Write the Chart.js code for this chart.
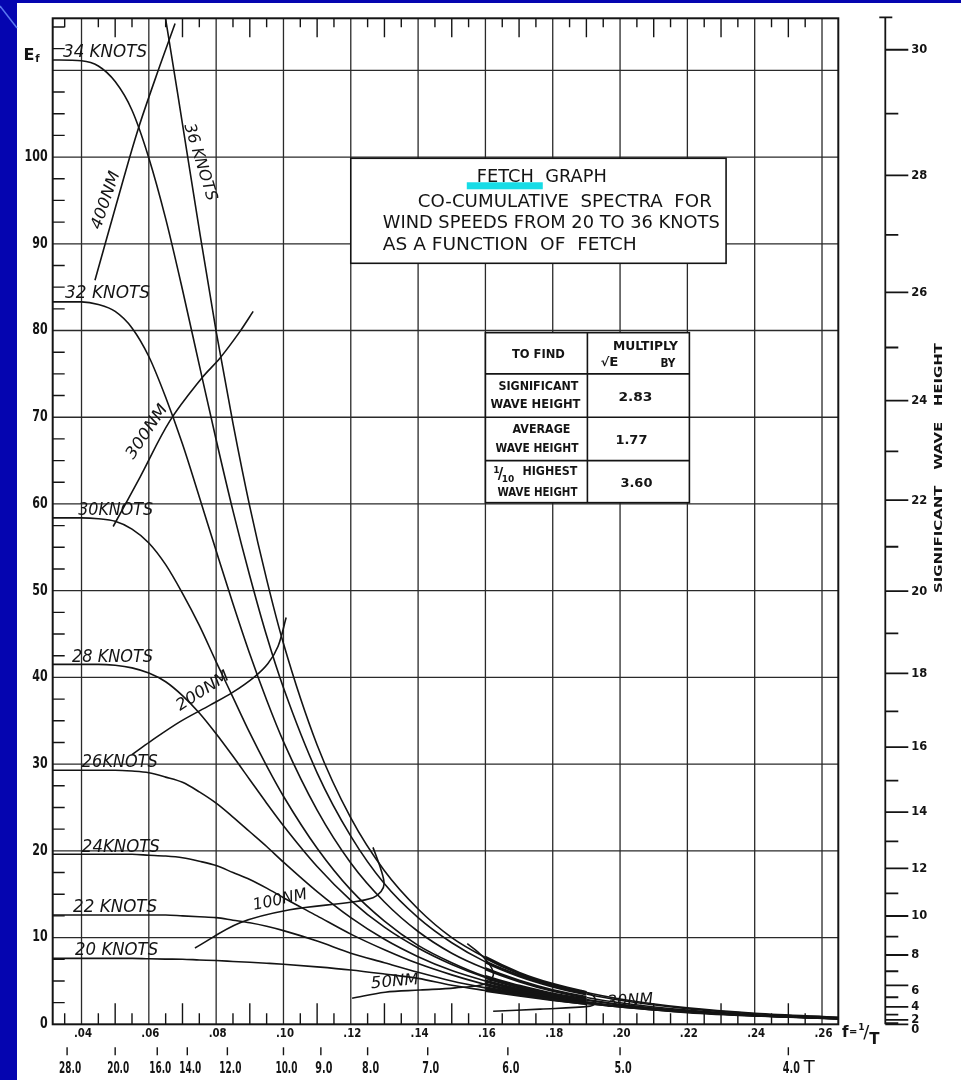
<!DOCTYPE html>
<html>
<head>
<meta charset="utf-8">
<title>Fetch graph</title>
<script src="https://cdn.jsdelivr.net/npm/chart.js@4.4.1/dist/chart.umd.min.js"></script>
<style>
  html, body { margin: 0; padding: 0; width: 961px; height: 1080px; overflow: hidden; background: #0505b0; }
  #paper { position: absolute; left: 17px; top: 3px; width: 944px; height: 1077px; background: #fff; }
  canvas { position: absolute; left: 0; top: 0; }
</style>
</head>
<body>
<div id="paper"></div>
<canvas id="fetchChart" width="961" height="1080"></canvas>
<script>
// frequency grid (f = 1/T) shared by the wind speed curves
const freq = [0.0314, 0.04, 0.045, 0.05, 0.055, 0.06, 0.065, 0.07, 0.075, 0.08, 0.085, 0.09, 0.095, 0.10,
              0.11, 0.12, 0.13, 0.14, 0.15, 0.16, 0.17, 0.18, 0.19, 0.20, 0.22, 0.24, 0.2648];

// co-cumulative spectra E for each wind speed
const knots36 = [null, null, null, null, null, 126.8, 115.9, 103.8, 91.6, 79.9, 69.3, 59.7, 51.3, 43.9,
                 32.2, 23.8, 17.7, 13.3, 10.0, 7.7, 5.9, 4.6, 3.66, 2.92, 1.89, 1.27, 0.82];
const knots34 = [111.2, 111.1, 110.5, 108.7, 105.4, 99.9, 92.9, 84.7, 76.0, 67.4, 59.2, 51.7, 44.8, 38.8,
                 29.0, 21.7, 16.2, 12.3, 9.4, 7.2, 5.6, 4.4, 3.5, 2.78, 1.81, 1.22, 0.78];
const knots32 = [83.3, 83.3, 83.0, 82.2, 80.3, 77.0, 72.3, 66.9, 60.8, 54.6, 48.5, 42.7, 37.4, 32.6,
                 24.7, 18.6, 14.1, 10.7, 8.2, 6.4, 5.0, 3.9, 3.1, 2.48, 1.63, 1.1, 0.70];
const knots30 = [58.4, 58.4, 58.3, 58.0, 57.1, 55.5, 53.0, 49.7, 46.0, 41.8, 37.7, 33.6, 29.8, 26.3,
                 20.3, 15.5, 11.9, 9.1, 7.1, 5.5, 4.4, 3.5, 2.85, 2.3, 1.52, 1.03, 0.67];
const knots28 = [41.5, 41.5, 41.5, 41.4, 41.1, 40.5, 39.5, 37.9, 35.9, 33.5, 30.9, 28.2, 25.5, 22.9,
                 18.2, 14.3, 11.2, 8.8, 6.9, 5.4, 4.3, 3.4, 2.77, 2.23, 1.49, 1.02, 0.66];
const knots26 = [29.3, 29.3, 29.3, 29.3, 29.2, 29.0, 28.5, 27.9, 26.8, 25.5, 23.9, 22.2, 20.5, 18.7,
                 15.3, 12.3, 9.8, 7.8, 6.2, 5.0, 4.0, 3.2, 2.6, 2.11, 1.43, 0.98, 0.64];
const knots24 = [19.6, 19.6, 19.6, 19.6, 19.6, 19.5, 19.4, 19.2, 18.8, 18.3, 17.5, 16.7, 15.7, 14.6,
                 12.5, 10.4, 8.6, 7.0, 5.7, 4.6, 3.75, 3.06, 2.5, 2.06, 1.41, 0.99, 0.64];
const knots22 = [12.6, 12.6, 12.6, 12.6, 12.6, 12.6, 12.6, 12.5, 12.4, 12.3, 12.0, 11.7, 11.3, 10.8,
                 9.6, 8.2, 7.1, 6.0, 5.0, 4.2, 3.5, 2.9, 2.4, 2.0, 1.39, 0.99, 0.66];
const knots20 = [7.6, 7.6, 7.6, 7.6, 7.6, 7.55, 7.52, 7.5, 7.42, 7.35, 7.25, 7.15, 7.04, 6.92,
                 6.62, 6.26, 5.8, 5.3, 4.5, 3.9, 3.35, 2.85, 2.4, 2.0, 1.35, 0.95, 0.62];

// fetch lines (frequency, energy pairs)
const fetch400F = [0.0440, 0.0503, 0.0564, 0.0618, 0.0678];
const fetch400E = [85.8, 94.5, 102.7, 108.9, 115.4];
const fetch300F = [0.0494, 0.0574, 0.0663, 0.0757, 0.0811, 0.0871, 0.0910];
const fetch300E = [57.4, 63.1, 69.6, 74.5, 76.8, 79.9, 82.2];
const fetch200F = [0.0550, 0.0604, 0.0693, 0.0782, 0.0850, 0.0915, 0.0954, 0.0984, 0.1008];
const fetch200E = [31.1, 32.6, 34.9, 36.8, 38.3, 40.1, 41.6, 43.6, 46.9];
const fetch100F = [0.0737, 0.0871, 0.1019, 0.1204, 0.1266, 0.1290, 0.1299, 0.1290, 0.1266];
const fetch100E = [8.8, 11.7, 13.2, 14.1, 14.6, 15.3, 16.2, 17.8, 20.4];
const fetch50F = [0.1204, 0.1302, 0.1406, 0.1510, 0.1599, 0.1623, 0.1614, 0.1579, 0.1546];
const fetch50E = [3.0, 3.7, 3.95, 4.2, 4.65, 5.6, 6.8, 8.3, 9.3];
const fetch30F = [0.1623, 0.1763, 0.1911, 0.1927, 0.1920, 0.1885];
const fetch30E = [1.5, 1.75, 2.1, 2.5, 3.3, 3.9];

// axes
const gridFreq = [0.04, 0.06, 0.08, 0.10, 0.12, 0.14, 0.16, 0.18, 0.20, 0.22, 0.24, 0.26];
const freqLabels = ['.04', '.06', '.08', '.10', '.12', '.14', '.16', '.18', '.20', '.22', '.24', '.26'];
const gridEnergy = [10, 20, 30, 40, 50, 60, 70, 80, 90, 100, 110];
const energyLabels = ['0', '10', '20', '30', '40', '50', '60', '70', '80', '90', '100'];
const periods = [28, 20, 16, 14, 12, 10, 9, 8, 7, 6, 5, 4];
const periodLabels = ['28.0', '20.0', '16.0', '14.0', '12.0', '10.0', '9.0', '8.0', '7.0', '6.0', '5.0', '4.0'];
const waveHeights = [0, 1, 2, 3, 4, 5, 6, 7, 8, 9, 10, 11, 12, 13, 14, 15, 16, 17, 18, 19, 20,
                     21, 22, 23, 24, 25, 26, 27, 28, 29, 30];
const SIG_FACTOR = 2.83;

document.addEventListener("DOMContentLoaded", function () {
    const INK = '#141414';
    const GRID = '#2a2a2a';
    const canvas = document.getElementById('fetchChart');
    const context = canvas.getContext('2d');

    const pts = (xs, ys) => xs.map((x, i) => ({ x: x, y: ys[i] }));

    const windCurves = [knots20, knots22, knots24, knots26, knots28, knots30, knots32, knots34, knots36];
    const fetchLines = [[fetch400F, fetch400E], [fetch300F, fetch300E], [fetch200F, fetch200E],
                        [fetch100F, fetch100E], [fetch50F, fetch50E], [fetch30F, fetch30E]];

    const datasets = [];
    windCurves.forEach(ys => datasets.push({
        data: pts(freq, ys), showLine: true, borderColor: INK, borderWidth: 1.6,
        pointRadius: 0, cubicInterpolationMode: 'monotone', clip: 0,
        // the curves are inked heavily where they bunch together
        segment: { borderWidth: c => (c.p0.parsed.x >= 0.159 && c.p1.parsed.x <= 0.191) ? 3.2 : 1.6 }
    }));
    fetchLines.forEach(([xs, ys]) => datasets.push({
        data: pts(xs, ys), showLine: true, borderColor: INK, borderWidth: 1.6,
        pointRadius: 0, tension: 0.35, clip: 0
    }));

    // text helper: optional rotation and horizontal fit to a target width
    function txt(ctx, s, x, y, o) {
        ctx.save();
        ctx.translate(x, y);
        if (o.rot) ctx.rotate(o.rot * Math.PI / 180);
        ctx.font = (o.style || 'normal') + ' ' + (o.weight || 'normal') + ' ' + o.size + 'px "DejaVu Sans"';
        ctx.textAlign = o.align || 'center';
        ctx.textBaseline = o.base || 'middle';
        if (o.w) ctx.scale(o.w / ctx.measureText(s).width, 1);
        ctx.fillStyle = INK;
        ctx.fillText(s, 0, 0);
        ctx.restore();
    }

    const fetchGraph = {
        id: 'fetchGraph',
        beforeDatasetsDraw(chart) {
            const { ctx, chartArea: a, scales: { x, y } } = chart;
            ctx.save();
            // slide decoration in the blue margin
            ctx.strokeStyle = '#5a78f0';
            ctx.lineWidth = 1.5;
            ctx.beginPath();
            ctx.moveTo(0, 6); ctx.lineTo(17, 28);
            ctx.stroke();

            ctx.strokeStyle = GRID;
            ctx.lineWidth = 1.3;
            ctx.beginPath();
            gridFreq.forEach(f => { const p = x.getPixelForValue(f); ctx.moveTo(p, a.top); ctx.lineTo(p, a.bottom); });
            gridEnergy.forEach(e => { const p = y.getPixelForValue(e); ctx.moveTo(a.left, p); ctx.lineTo(a.right, p); });
            ctx.stroke();

            // frequency ticks along bottom and top
            ctx.strokeStyle = INK;
            ctx.lineWidth = 1.4;
            ctx.beginPath();
            for (let k = 7; k <= 52; k++) {
                if (k % 4 === 0) continue;
                const p = x.getPixelForValue(k * 0.005);
                const len = (k % 2 === 0) ? 21 : 11;
                ctx.moveTo(p, a.bottom); ctx.lineTo(p, a.bottom - len);
                ctx.moveTo(p, a.top); ctx.lineTo(p, a.top + len - 2);
            }
            // energy ticks along the left edge
            for (let j = 1; j <= 46; j++) {
                if (j % 4 === 0) continue;
                const p = y.getPixelForValue(j * 2.5);
                ctx.moveTo(a.left, p); ctx.lineTo(a.left + 12, p);
            }
            ctx.stroke();
            ctx.restore();
        },
        afterDatasetsDraw(chart) {
            const { ctx, chartArea: a, scales: { x, y } } = chart;
            ctx.save();

            // title box
            const bx = x.getPixelForValue(0.12), by = y.getPixelForValue(99.86);
            const bw = x.getPixelForValue(0.2315) - bx, bh = y.getPixelForValue(87.75) - by;
            ctx.fillStyle = '#fff';
            ctx.fillRect(bx, by, bw, bh);
            ctx.strokeStyle = INK; ctx.lineWidth = 1.6;
            ctx.strokeRect(bx, by, bw, bh);
            ctx.fillStyle = '#17dce6';
            ctx.fillRect(bx + 116, by + 24, 76, 7);
            txt(ctx, 'FETCH  GRAPH', bx + 126, by + 23.5, { size: 18, align: 'left', base: 'alphabetic', w: 130 });
            txt(ctx, 'CO-CUMULATIVE  SPECTRA  FOR', bx + 67, by + 48.5, { size: 18, align: 'left', base: 'alphabetic', w: 294 });
            txt(ctx, 'WIND SPEEDS FROM 20 TO 36 KNOTS', bx + 32, by + 69.5, { size: 18, align: 'left', base: 'alphabetic', w: 337 });
            txt(ctx, 'AS A FUNCTION  OF  FETCH', bx + 32, by + 91.5, { size: 18, align: 'left', base: 'alphabetic', w: 254 });

            // multiplier table
            const tx = x.getPixelForValue(0.16), ty = y.getPixelForValue(79.75);
            const tw = x.getPixelForValue(0.2206) - tx, th = y.getPixelForValue(60.15) - ty;
            ctx.fillStyle = '#fff';
            ctx.fillRect(tx, ty, tw, th);
            ctx.strokeStyle = INK; ctx.lineWidth = 1.6;
            ctx.strokeRect(tx, ty, tw, th);
            ctx.beginPath();
            const cx = x.getPixelForValue(0.1903);
            ctx.moveTo(cx, ty); ctx.lineTo(cx, ty + th);
            [75, 70, 65].forEach(e => { const p = y.getPixelForValue(e); ctx.moveTo(tx, p); ctx.lineTo(tx + tw, p); });
            ctx.stroke();
            const tb = { size: 12, weight: 'bold' };
            txt(ctx, 'TO FIND', tx + 53, ty + 22, { ...tb, w: 53 });
            txt(ctx, 'MULTIPLY', tx + 160, ty + 14.5, { ...tb, w: 65 });
            txt(ctx, '\u221AE', tx + 124, ty + 30.5, { ...tb, w: 18 });
            txt(ctx, 'BY', tx + 182.5, ty + 31, { ...tb, w: 15 });
            txt(ctx, 'SIGNIFICANT', tx + 53, ty + 54.5, { ...tb, w: 80 });
            txt(ctx, 'WAVE HEIGHT', tx + 50, ty + 72.5, { ...tb, w: 90 });
            txt(ctx, '2.83', tx + 150, ty + 64.5, { ...tb, size: 13, w: 34 });
            txt(ctx, 'AVERAGE', tx + 56, ty + 97.5, { ...tb, w: 58 });
            txt(ctx, 'WAVE HEIGHT', tx + 51.5, ty + 116.5, { ...tb, w: 83 });
            txt(ctx, '1.77', tx + 146, ty + 107.5, { ...tb, size: 13, w: 32 });
            txt(ctx, '1', tx + 11, ty + 138, { ...tb, size: 9 });
            txt(ctx, '/', tx + 15, ty + 142, { ...tb, size: 15 });
            txt(ctx, '10', tx + 22.5, ty + 147, { ...tb, size: 9 });
            txt(ctx, 'HIGHEST', tx + 64.5, ty + 139.5, { ...tb, w: 55 });
            txt(ctx, 'WAVE HEIGHT', tx + 52, ty + 160.5, { ...tb, w: 80 });
            txt(ctx, '3.60', tx + 151, ty + 150.5, { ...tb, size: 13, w: 32 });

            // frame
            ctx.strokeStyle = INK; ctx.lineWidth = 2;
            ctx.strokeRect(a.left, a.top, a.right - a.left, a.bottom - a.top);

            // left axis labels
            energyLabels.forEach((s, i) => txt(ctx, s, a.left - 5, y.getPixelForValue(i * 10),
                { size: 15, weight: 'bold', align: 'right', w: s.length * 7.7 }));
            txt(ctx, 'E', 29, 56, { size: 16, weight: 'bold' });
            txt(ctx, 'f', 37.5, 59, { size: 10, weight: 'bold' });

            // bottom axis: frequency and period
            freqLabels.forEach((s, i) => txt(ctx, s, x.getPixelForValue(gridFreq[i]) + 1.5, a.bottom + 10,
                { size: 12, weight: 'bold', w: 18 }));
            ctx.beginPath();
            ctx.lineWidth = 1.4;
            periods.forEach((T, i) => {
                const p = x.getPixelForValue(1 / T);
                ctx.moveTo(p, a.bottom + 23); ctx.lineTo(p, a.bottom + 31);
                txt(ctx, periodLabels[i], p + 3, a.bottom + 45, { size: 15, weight: 'bold', w: periodLabels[i].length > 3 ? 22 : 17 });
            });
            ctx.stroke();
            txt(ctx, 'T', x.getPixelForValue(0.25) + 21, a.bottom + 44, { size: 18 });
            txt(ctx, 'f', a.right + 7, a.bottom + 9, { size: 15, weight: 'bold' });
            txt(ctx, '=', a.right + 15, a.bottom + 8, { size: 10, weight: 'bold' });
            txt(ctx, '1', a.right + 23, a.bottom + 3, { size: 9, weight: 'bold' });
            txt(ctx, '/', a.right + 28, a.bottom + 9, { size: 18 });
            txt(ctx, 'T', a.right + 36, a.bottom + 16, { size: 15, weight: 'bold' });

            // significant wave height axis
            const ax = a.right + 47;
            ctx.beginPath();
            ctx.lineWidth = 1.8;
            ctx.moveTo(ax, a.top - 1); ctx.lineTo(ax, a.bottom);
            ctx.moveTo(ax - 6, a.top - 1); ctx.lineTo(ax + 7, a.top - 1);
            waveHeights.forEach(h => {
                const p = y.getPixelForValue((h / SIG_FACTOR) ** 2);
                const len = h % 2 === 0 ? 23 : 13;
                ctx.moveTo(ax, p); ctx.lineTo(ax + len, p);
            });
            ctx.stroke();
            waveHeights.forEach(h => {
                if (h % 2) return;
                let p = y.getPixelForValue((h / SIG_FACTOR) ** 2);
                if (h === 0) p += 5;
                if (h === 6) p += 5;
                const s = String(h);
                txt(ctx, s, ax + 26, p, { size: 13, weight: 'bold', align: 'left', w: s.length * 8 });
            });
            txt(ctx, 'SIGNIFICANT   WAVE   HEIGHT', 939, 468, { size: 10, weight: 'bold', rot: -90, w: 250 });

            // curve labels
            const ital = { style: 'italic', size: 17, align: 'left', base: 'alphabetic' };
            const knotLabels = [
                ['34 KNOTS', 0.0345, 111.5, 84], ['32 KNOTS', 0.0351, 83.75, 85], ['30KNOTS', 0.0390, 58.7, 75],
                ['28 KNOTS', 0.0372, 41.8, 81], ['26KNOTS', 0.0401, 29.7, 76], ['24KNOTS', 0.0401, 19.9, 78],
                ['22 KNOTS', 0.0375, 12.95, 84], ['20 KNOTS', 0.0381, 7.99, 83]
            ];
            knotLabels.forEach(([s, f, e, w]) => txt(ctx, s, x.getPixelForValue(f), y.getPixelForValue(e), { ...ital, w: w }));
            const slanted = [
                ['36 KNOTS', 0.0752, 99.4, 73, 80], ['400NM', 0.0473, 95.0, -71, 60], ['300NM', 0.0595, 68.3, -56, 62],
                ['200NM', 0.0761, 38.4, -33, 60], ['100NM', 0.0990, 14.3, -12, 55], ['50NM', 0.1331, 4.88, -5, 48],
                ['30NM', 0.2030, 2.69, -4, 46]
            ];
            slanted.forEach(([s, f, e, r, w]) => txt(ctx, s, x.getPixelForValue(f), y.getPixelForValue(e),
                { style: 'italic', size: 16, rot: r, w: w }));
            ctx.restore();
        }
    };

    new Chart(context, {
        type: 'scatter',
        data: { datasets },
        options: {
            responsive: false,
            animation: false,
            devicePixelRatio: 1,
            layout: { padding: { left: 52.7, right: 122.7, top: 18.3, bottom: 55.7 } },
            scales: {
                x: { type: 'linear', min: 0.03144, max: 0.26484, display: false },
                y: { type: 'linear', min: 0, max: 116, display: false }
            },
            plugins: { legend: { display: false }, tooltip: { enabled: false } }
        },
        plugins: [fetchGraph]
    });
});
</script>
</body>
</html>
